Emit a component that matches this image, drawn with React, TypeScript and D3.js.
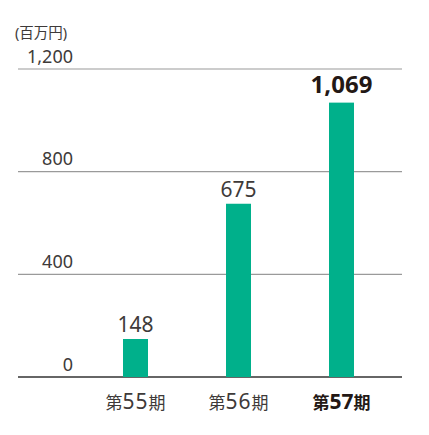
import React from 'react';
import * as d3 from 'd3';

const categories = ['55', '56', '57'];
const values = [148, 675, 1069];
const yTicks = [0, 400, 800, 1200];
const unitLabel = '(百万円)';

const WIDTH = 429;
const HEIGHT = 435;
const BAR_COLOR = '#00b08b';
const TEXT_COLOR = '#3e3a39';
const FONT = '"Noto Sans", "Noto Sans CJK JP", sans-serif';

const App: React.FC = () => {
  const xScale = d3.scalePoint<string>().domain(categories).range([135.5, 341.5]);
  const yScale = d3.scaleLinear().domain([0, 1200]).range([377, 69]);
  const barWidth = 25;
  const lastIndex = categories.length - 1;

  return (
    <div style={{ position: 'absolute', left: 0, top: 0 }}>
      <svg width={WIDTH} height={HEIGHT} style={{ display: 'block', fontFamily: FONT }}>
        <text x={15} y={38} fontSize={14.5} fill={TEXT_COLOR}>
          {unitLabel}
        </text>

        {/* grid lines + tick labels */}
        {yTicks.map(t => (
          <g key={t}>
            <line
              x1={18}
              x2={402}
              y1={yScale(t)}
              y2={yScale(t)}
              stroke={t === 0 ? '#333' : '#9a9a9a'}
              strokeWidth={t === 0 ? 1.3 : 1.2}
            />
            <text
              x={73}
              y={yScale(t) - 6.5}
              textAnchor="end"
              fontSize={18}
              fill={TEXT_COLOR}
            >
              {d3.format(',')(t)}
            </text>
          </g>
        ))}

        {/* bars */}
        {values.map((v, i) => {
          const cx = xScale(categories[i]) || 0;
          const bold = i === lastIndex;
          return (
            <g key={categories[i]}>
              <rect
                x={cx - barWidth / 2}
                y={yScale(v)}
                width={barWidth}
                height={yScale(0) - yScale(v)}
                fill={BAR_COLOR}
              />
              <text
                x={cx}
                y={yScale(v) - (bold ? 10 : 7)}
                textAnchor="middle"
                fontSize={bold ? 24 : 21}
                fontWeight={bold ? 700 : 400}
                fill={bold ? '#231815' : TEXT_COLOR}
              >
                {d3.format(',')(v)}
              </text>
              <text
                x={cx}
                y={409}
                textAnchor="middle"
                fill={bold ? '#231815' : TEXT_COLOR}
                fontWeight={bold ? 700 : 400}
              >
                <tspan fontSize={17}>第</tspan>
                <tspan fontSize={21} letterSpacing={bold ? 0 : 1}>{categories[i]}</tspan>
                <tspan fontSize={17}>期</tspan>
              </text>
            </g>
          );
        })}
      </svg>
    </div>
  );
};

export default App;
